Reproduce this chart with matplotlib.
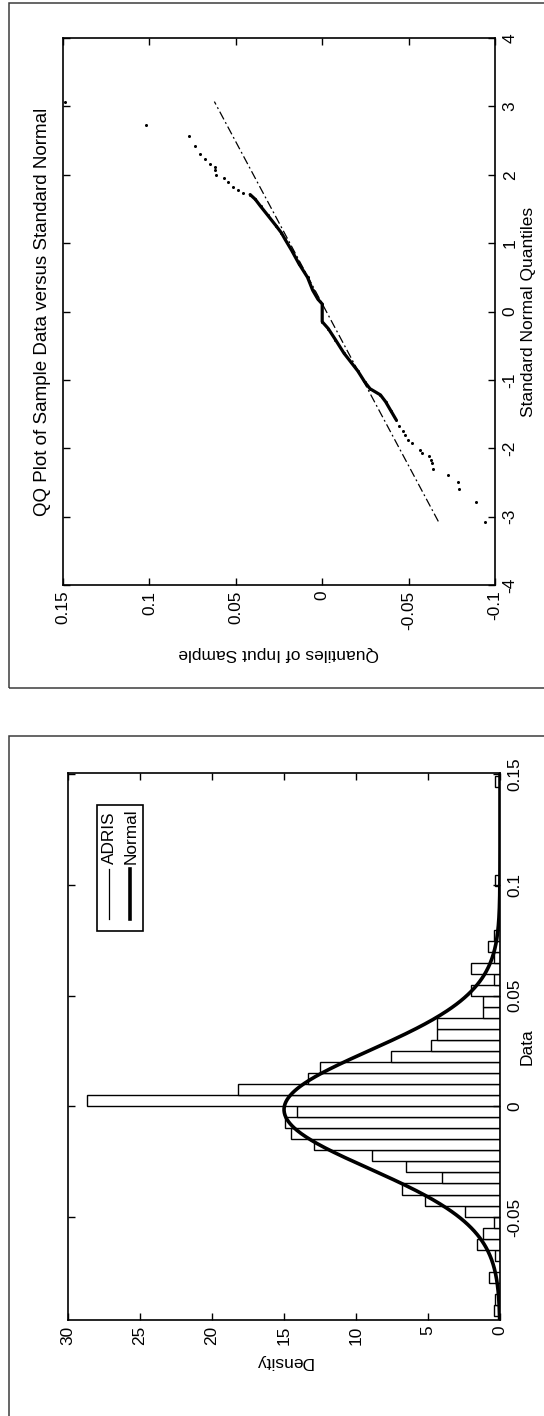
import numpy as np
import matplotlib
matplotlib.use("Agg")
import matplotlib.pyplot as plt
from matplotlib.patches import Rectangle
from matplotlib.lines import Line2D

plt.rcParams['font.family'] = ['Liberation Sans', 'DejaVu Sans']

# ---- histogram data (density per bin, lowest bin first) ----
bin_lo = -0.0945
bin_w = 0.00497
density = [0.4, 0.36, 0, 0.77, 0, 0.36, 1.6, 1.2, 0.4, 2.4,
           5.2, 6.8, 4.0, 6.5, 8.9, 12.9, 14.5, 14.9, 14.1, 28.7,
           18.2, 13.3, 12.5, 7.6, 4.8, 4.4, 4.4, 1.2, 1.2, 2.0,
           0.4, 2.0, 0.4, 0.8, 0.4, 0, 0, 0, 0, 0.36,
           0, 0, 0, 0, 0, 0, 0, 0, 0.36]
# fitted normal
fit_mu = -0.0015
fit_sigma = 0.0266
data_lim = (-0.0965, 0.1505)

# ---- QQ plot data ----
qq_z = [-3.08, -2.78, -2.60, -2.50, -2.39, -2.30, -2.22, -2.17, -2.12, -2.07,
        -2.02, -1.93, -1.88, -1.81, -1.75, -1.68, -1.58, -1.45, -1.32, -1.22,
        -1.13, -1.03, -0.87, -0.74, -0.61, -0.41, -0.25, -0.15, 0.11, 0.18,
        0.31, 0.50, 0.70, 0.89, 1.06, 1.15, 1.25, 1.41, 1.54, 1.64,
        1.71, 1.74, 1.77, 1.82, 1.90, 1.95, 1.99, 2.07, 2.12, 2.16,
        2.23, 2.31, 2.42, 2.57, 2.73, 3.07]
qq_q = [-0.0944, -0.0890, -0.0792, -0.0784, -0.0728, -0.0641, -0.0635, -0.0627, -0.0618, -0.0578,
        -0.0566, -0.0518, -0.0498, -0.0478, -0.0467, -0.0447, -0.0427, -0.0397, -0.0367, -0.0337,
        -0.0277, -0.0246, -0.0206, -0.0166, -0.0126, -0.0076, -0.0035, 0.0, 0.0, 0.0025,
        0.0055, 0.0085, 0.0135, 0.0176, 0.0216, 0.0236, 0.0266, 0.0316, 0.0357, 0.0387,
        0.0417, 0.0457, 0.0487, 0.0517, 0.0547, 0.0568, 0.0614, 0.0618, 0.0618, 0.0648,
        0.0678, 0.0708, 0.0738, 0.0768, 0.102, 0.149]
dense_range = (16, 41)   # where the points merge into a thick trace
ref_z = [-3.07, 3.07]
ref_q = [-0.0672, 0.0624]

W, H = 544, 1416
fig = plt.figure(figsize=(W / 100, H / 100), dpi=100)


def box(l, t, r, b):
    return [l / W, 1 - b / H, (r - l) / W, (b - t) / H]


def style(ax):
    for s in ax.spines.values():
        s.set_linewidth(1.2)
        s.set_color('black')
    ax.tick_params(direction='in', length=5, width=1, top=True, bottom=True,
                   left=True, right=True, labelleft=False, labelright=True,
                   labelbottom=True, labelsize=12.4, labelrotation=90)
    ax.tick_params(axis='y', pad=5.5)
    ax.tick_params(axis='x', pad=4)
    for t in ax.yaxis.get_major_ticks():
        t.label2.set_va('center')


# outer frames (page is rotated, frames run off the edge)
fig.add_artist(Rectangle((9 / W, 1 - 688 / H), 1.0, 685 / H, transform=fig.transFigure,
                         fill=False, lw=1.1, ec='#3c3c3c'))
fig.add_artist(Rectangle((9 / W, -0.1), 1.0, 0.1 + 1 - 736 / H, transform=fig.transFigure,
                         fill=False, lw=1.1, ec='#3c3c3c'))

# ---------------- QQ plot (top) ----------------
ax = fig.add_axes(box(63, 38, 495, 585))
ax.plot(ref_q, ref_z, color='black', lw=0.9, ls=(0, (7, 2.5, 1.5, 2.5)))
a, b = dense_range
ax.plot(qq_q[a:b], qq_z[a:b], color='black', lw=2.3, solid_capstyle='round')
ax.plot(qq_q, qq_z, 'o', color='black', ms=2.2, mew=0)
ax.set_xlim(0.15, -0.1)
ax.set_ylim(-4, 4)
ax.set_xticks([-0.1, -0.05, 0, 0.05, 0.1, 0.15], ['-0.1', '-0.05', '0', '0.05', '0.1', '0.15'])
ax.set_yticks(range(-4, 5), [str(v) for v in range(-4, 5)])
style(ax)
ax.set_xlabel('Quantiles of Input Sample', fontsize=12.5, rotation=180, va='center')
ax.xaxis.set_label_coords(0.5, (585 - 653) / 547)
ax.yaxis.set_label_position('right')
ax.set_ylabel('Standard Normal Quantiles', fontsize=12.5, rotation=90, va='center', ha='center')
ax.yaxis.set_label_coords((528 - 63) / 432, 0.5)
ax.text((43 - 63) / 432, 0.5, 'QQ Plot of Sample Data versus Standard Normal', fontsize=13.5,
        rotation=90, ha='center', va='center', transform=ax.transAxes)

# ---------------- histogram (bottom) ----------------
ax = fig.add_axes(box(68, 773, 500, 1320))
centers = bin_lo + bin_w * (np.arange(len(density)) + 0.5)
ax.barh(centers, density, height=bin_w, color='white', edgecolor='black', lw=1.0)
grid = np.linspace(data_lim[0], data_lim[1], 500)
pdf = np.exp(-0.5 * ((grid - fit_mu) / fit_sigma) ** 2) / (fit_sigma * np.sqrt(2 * np.pi))
ax.plot(pdf, grid, color='black', lw=2.6)
ax.set_xlim(30, 0)
ax.set_ylim(*data_lim)
ax.set_xticks(range(0, 31, 5), [str(v) for v in range(0, 31, 5)])
ax.set_yticks([-0.05, 0, 0.05, 0.1, 0.15], ['-0.05', '0', '0.05', '0.1', '0.15'])
style(ax)
ax.set_xlabel('Density', fontsize=12.5, rotation=180, va='center')
ax.xaxis.set_label_coords(0.5, (1320 - 1361) / 547)
ax.yaxis.set_label_position('right')
ax.set_ylabel('Data', fontsize=12.5, rotation=90, va='center', ha='center')
ax.yaxis.set_label_coords((527 - 68) / 432, 0.5)

# legend, drawn rotated like the rest of the page
ax.add_patch(Rectangle((0.067, 0.711), 0.107, 0.2305, transform=ax.transAxes,
                       facecolor='white', edgecolor='black', lw=1.2, zorder=5))
ax.add_line(Line2D([0.095, 0.095], [0.733, 0.824], transform=ax.transAxes,
                   color='black', lw=0.9, zorder=6))
ax.add_line(Line2D([0.1435, 0.1435], [0.733, 0.824], transform=ax.transAxes,
                   color='black', lw=2.6, zorder=6))
ax.text(0.097, 0.834, 'ADRIS', rotation=90, ha='center', va='bottom', fontsize=12.4,
        transform=ax.transAxes, zorder=6)
ax.text(0.145, 0.834, 'Normal', rotation=90, ha='center', va='bottom', fontsize=12.4,
        transform=ax.transAxes, zorder=6)

fig.savefig('out.png', dpi=100)
